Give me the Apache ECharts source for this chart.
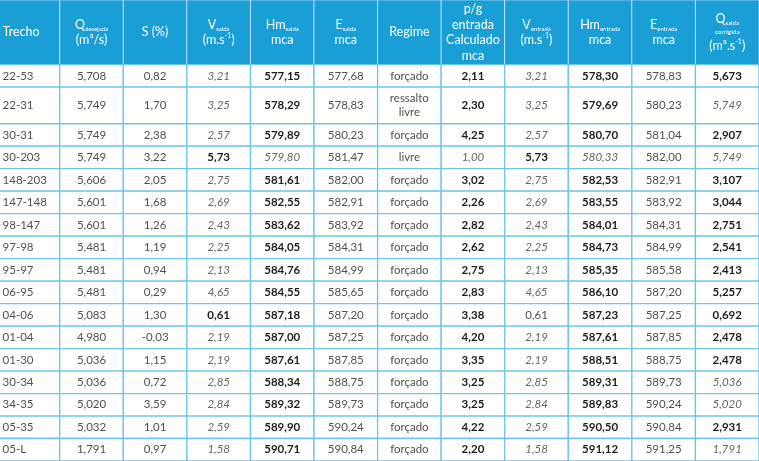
<!DOCTYPE html>
<html>
<head>
<meta charset="utf-8">
<script src="https://cdn.jsdelivr.net/npm/echarts@6/dist/echarts.min.js"></script>
<style>
html, body { margin: 0; padding: 0; background: #fff; }
#chart { width: 759px; height: 461px; }
</style>
</head>
<body>
<div id="chart"></div>
<script>
// column headers (rich text: m = main, s = subscript, p = superscript, c = small line)
const headerLabels = [
  'Trecho',
  '{m|Q}{s|desejada}\n{m|(m³/s)}',
  '{m|S (%)}',
  '{m|V}{s|saida}\n{m|(m.s}{p|-1}{m|)}',
  '{m|Hm}{s|saida}\n{m|mca}',
  '{m|E}{s|saida}\n{m|mca}',
  '{m|Regime}',
  '{m|p/g}\n{m|entrada}\n{m|Calculado}\n{m|mca}',
  '{m|V}{s|entrada}\n{m|(m.s}{p|-1}{m|)}',
  '{m|Hm}{s|entrada}\n{m|mca}',
  '{m|E}{s|entrada}\n{m|mca}',
  '{m|Q}{s|saida}\n{c|corrigida}\n{m|(m³.s}{p|-1}{m|)}'
];

const trechos = ['22-53', '22-31', '30-31', '30-203', '148-203', '147-148', '98-147', '97-98', '95-97',
  '06-95', '04-06', '01-04', '01-30', '30-34', '34-35', '05-35', '05-L'];
const qDesejada = [5.708, 5.749, 5.749, 5.749, 5.606, 5.601, 5.601, 5.481, 5.481, 5.481, 5.083, 4.980,
  5.036, 5.036, 5.020, 5.032, 1.791];
const sPct = [0.82, 1.70, 2.38, 3.22, 2.05, 1.68, 1.26, 1.19, 0.94, 0.29, 1.30, -0.03, 1.15, 0.72, 3.59, 1.01, 0.97];
const vSaida = [3.21, 3.25, 2.57, 5.73, 2.75, 2.69, 2.43, 2.25, 2.13, 4.65, 0.61, 2.19, 2.19, 2.85, 2.84, 2.59, 1.58];
const hmSaida = [577.15, 578.29, 579.89, 579.80, 581.61, 582.55, 583.62, 584.05, 584.76, 584.55, 587.18, 587.00,
  587.61, 588.34, 589.32, 589.90, 590.71];
const eSaida = [577.68, 578.83, 580.23, 581.47, 582.00, 582.91, 583.92, 584.31, 584.99, 585.65, 587.20, 587.25,
  587.85, 588.75, 589.73, 590.24, 590.84];
const regimes = ['forçado', 'ressalto\nlivre', 'forçado', 'livre', 'forçado', 'forçado', 'forçado', 'forçado',
  'forçado', 'forçado', 'forçado', 'forçado', 'forçado', 'forçado', 'forçado', 'forçado', 'forçado'];
const pgEntrada = [2.11, 2.30, 4.25, 1.00, 3.02, 2.26, 2.82, 2.62, 2.75, 2.83, 3.38, 4.20, 3.35, 3.25, 3.25, 4.22, 2.20];
const vEntrada = [3.21, 3.25, 2.57, 5.73, 2.75, 2.69, 2.43, 2.25, 2.13, 4.65, 0.61, 2.19, 2.19, 2.85, 2.84, 2.59, 1.58];
const hmEntrada = [578.30, 579.69, 580.70, 580.33, 582.53, 583.55, 584.01, 584.73, 585.35, 586.10, 587.23, 587.61,
  588.51, 589.31, 589.83, 590.50, 591.12];
const eEntrada = [578.83, 580.23, 581.04, 582.00, 582.91, 583.92, 584.31, 584.99, 585.58, 587.20, 587.25, 587.85,
  588.75, 589.73, 590.24, 590.84, 591.25];
const qCorrigida = [5.673, 5.749, 2.907, 5.749, 3.107, 3.044, 2.751, 2.541, 2.413, 5.257, 0.692, 2.478, 2.478,
  5.036, 5.020, 2.931, 1.791];

// emphasis per cell: n = normal, b = bold, i = italic
const emphasis = ['nnnibnnbibnb', 'nnnibnnbibni', 'nnnibnnbibnb', 'nnnbinnibini', 'nnnibnnbibnb',
  'nnnibnnbibnb', 'nnnibnnbibnb', 'nnnibnnbibnb', 'nnnibnnbibnb', 'nnnibnnbibnb', 'nnnbbnnbnbnb',
  'nnnibnnbibnb', 'nnnibnnbibnb', 'nnnibnnbibni', 'nnnibnnbibni', 'nnnibnnbibnb', 'nnnibnnbibni'];

const columns = [trechos, qDesejada, sPct, vSaida, hmSaida, eSaida, regimes, pgEntrada, vEntrada, hmEntrada, eEntrada, qCorrigida];
const decimals = [null, 3, 2, 2, 2, 2, null, 2, 2, 2, 2, 3];

function fmt(v, d) {
  return d == null ? v : v.toFixed(d).replace('.', ',');
}

// build the cells, row heights grow with the number of text lines
const HEADER_H = 64.5, ROW_H = 22.45, LINE_H = 14.15;
const cells = [];
headerLabels.forEach(function (h, c) {
  cells.push({ col: c, top: 0, bottom: HEADER_H, header: true, text: h, emph: 'n' });
});
let y = HEADER_H;
trechos.forEach(function (t, r) {
  const texts = columns.map(function (col, c) { return String(fmt(col[r], decimals[c])); });
  const lines = Math.max.apply(null, texts.map(function (s) { return s.split('\n').length; }));
  const h = ROW_H + (lines - 1) * LINE_H;
  texts.forEach(function (s, c) {
    cells.push({ col: c, top: y, bottom: y + h, header: false, text: s, emph: emphasis[r][c] });
  });
  y += h;
});
const totalH = y;

const FONT = 'Lato, "Open Sans", sans-serif';
const headerRich = {
  m: { fontSize: 12.5, lineHeight: 15.5, color: '#fff', fontFamily: FONT },
  s: { fontSize: 6, lineHeight: 8, color: '#fff', fontFamily: FONT, verticalAlign: 'bottom' },
  p: { fontSize: 7, lineHeight: 9, color: '#fff', fontFamily: FONT, verticalAlign: 'top' },
  c: { fontSize: 6.5, lineHeight: 12, color: '#fff', fontFamily: FONT }
};

var myChart = echarts.init(document.getElementById('chart'));
var option = {
  animation: false,
  backgroundColor: '#fff',
  grid: { left: 0, right: 0, top: 0, bottom: 0 },
  xAxis: { type: 'value', min: 0.06, max: 12, show: false },
  yAxis: { type: 'value', min: 0, max: totalH, inverse: true, show: false },
  series: [{
    type: 'custom',
    silent: true,
    clip: true,
    data: cells.map(function (c) { return [c.col, c.top, c.bottom]; }),
    renderItem: function (params, api) {
      const c = cells[params.dataIndex];
      const p0 = api.coord([c.col, c.top]);
      const p1 = api.coord([c.col + 1, c.bottom]);
      let textStyle;
      if (c.header) {
        textStyle = {
          text: c.text, rich: headerRich, fill: '#fff', fontSize: 12.5, fontFamily: FONT,
          lineHeight: 15.5, align: c.col === 0 ? 'left' : 'center'
        };
      } else {
        textStyle = {
          text: c.text,
          fontFamily: FONT,
          fontSize: 11.5,
          lineHeight: 14,
          fontWeight: c.emph === 'b' ? 'bold' : 'normal',
          fontStyle: c.emph === 'i' ? 'italic' : 'normal',
          fill: c.emph === 'b' ? '#1e1e1e' : (c.emph === 'i' ? '#666' : '#505050'),
          align: c.col === 0 ? 'left' : 'center'
        };
      }
      return {
        type: 'rect',
        shape: { x: p0[0], y: p0[1], width: p1[0] - p0[0], height: p1[1] - p0[1] },
        style: {
          fill: c.header ? '#1a9ed6' : '#fff',
          stroke: c.header ? 'rgba(255,255,255,0.5)' : '#72c5e9',
          lineWidth: c.header ? 1 : 1.3
        },
        textContent: { style: textStyle },
        textConfig: { position: c.col === 0 ? 'insideLeft' : 'inside', distance: 7 }
      };
    }
  }]
};
myChart.setOption(option);
</script>
</body>
</html>
